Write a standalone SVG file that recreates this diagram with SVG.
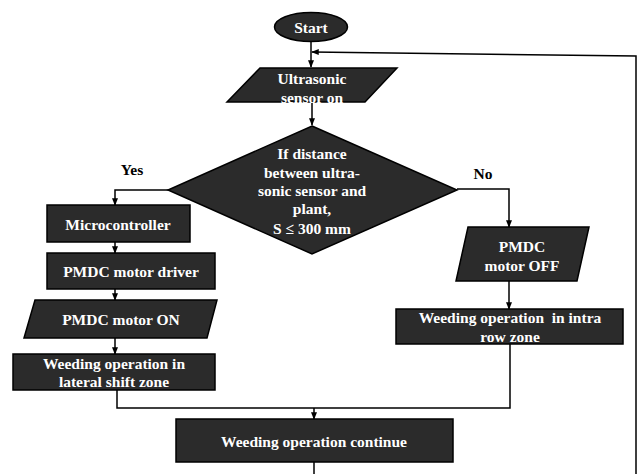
<svg xmlns="http://www.w3.org/2000/svg" width="639" height="474" viewBox="0 0 639 474">
<style>
.n{fill:#2b2b2b;stroke:#000;stroke-width:1.5}
.t{fill:#fff;font-family:"Liberation Serif","Times New Roman",serif;font-weight:bold;font-size:15.5px;text-anchor:middle;dominant-baseline:central;white-space:pre}
.l{fill:#000;font-family:"Liberation Serif","Times New Roman",serif;font-weight:bold;font-size:15.5px;text-anchor:middle;dominant-baseline:central}
.c{fill:none;stroke:#000;stroke-width:1.5}
</style>
<defs>
<marker id="a" viewBox="0 0 10 10" refX="9" refY="5" markerWidth="5" markerHeight="5" orient="auto"><path d="M0,1 L10,5 L0,9 z" fill="#000"/></marker>
</defs>
<rect width="639" height="474" fill="#fff"/>
<g id="connectors">
<path class="c" d="M311,42 V67" marker-end="url(#a)"/>
<path class="c" d="M312,102 V125" marker-end="url(#a)"/>
<path class="c" d="M168,190 H115 V205" marker-end="url(#a)"/>
<path class="c" d="M115,242 V253" marker-end="url(#a)"/>
<path class="c" d="M115,289 V300" marker-end="url(#a)"/>
<path class="c" d="M115,338 V354" marker-end="url(#a)"/>
<path class="c" d="M457,189 H509 V227" marker-end="url(#a)"/>
<path class="c" d="M509,281 V309" marker-end="url(#a)"/>
<path class="c" d="M117,390 V408 H510 V344"/>
<path class="c" d="M314,408 V419" marker-end="url(#a)"/>
<path class="c" d="M314,462 V474"/>
<path class="c" d="M636,474 V56 L312,52" marker-end="url(#a)"/>
<text class="l" x="132" y="169">Yes</text>
<text class="l" x="483" y="173">No</text>
</g>
<g id="start">
<ellipse class="n" cx="311" cy="27" rx="36.5" ry="14.5"/>
<text class="t" x="311" y="27">Start</text>
</g>
<g id="ultrasonic">
<polygon class="n" points="260,68 397,68 365,102 227,102"/>
<text class="t" x="312" y="78">Ultrasonic</text>
<text class="t" x="312" y="97">sensor on</text>
</g>
<g id="decision">
<polygon class="n" points="312,126 457,190 312,254 168,190"/>
<text class="t" x="312" y="153">If distance</text>
<text class="t" x="312" y="172">between ultra-</text>
<text class="t" x="312" y="190">sonic sensor and</text>
<text class="t" x="312" y="208">plant,</text>
<text class="t" x="312" y="228">S ≤ 300 mm</text>
</g>
<g id="microcontroller">
<rect class="n" x="47" y="205" width="143" height="37"/>
<text class="t" x="118" y="224">Microcontroller</text>
</g>
<g id="driver">
<rect class="n" x="47" y="253" width="168" height="36"/>
<text class="t" x="131" y="271">PMDC motor driver</text>
</g>
<g id="motor-on">
<polygon class="n" points="35,300 217,300 207,338 24,338"/>
<text class="t" x="121" y="319">PMDC motor ON</text>
</g>
<g id="lateral">
<rect class="n" x="13" y="354" width="202" height="36"/>
<text class="t" x="114" y="363">Weeding operation in</text>
<text class="t" x="114" y="381">lateral shift zone</text>
</g>
<g id="motor-off">
<polygon class="n" points="468,227 589,227 577,281 456,281"/>
<text class="t" x="522" y="246">PMDC</text>
<text class="t" x="522" y="265">motor OFF</text>
</g>
<g id="intra">
<rect class="n" x="396" y="309" width="227" height="35"/>
<text class="t" x="510" y="317">Weeding operation  in intra</text>
<text class="t" x="510" y="336">row zone</text>
</g>
<g id="continue">
<rect class="n" x="176" y="419" width="277" height="43"/>
<text class="t" x="314" y="441">Weeding operation continue</text>
</g>
</svg>
